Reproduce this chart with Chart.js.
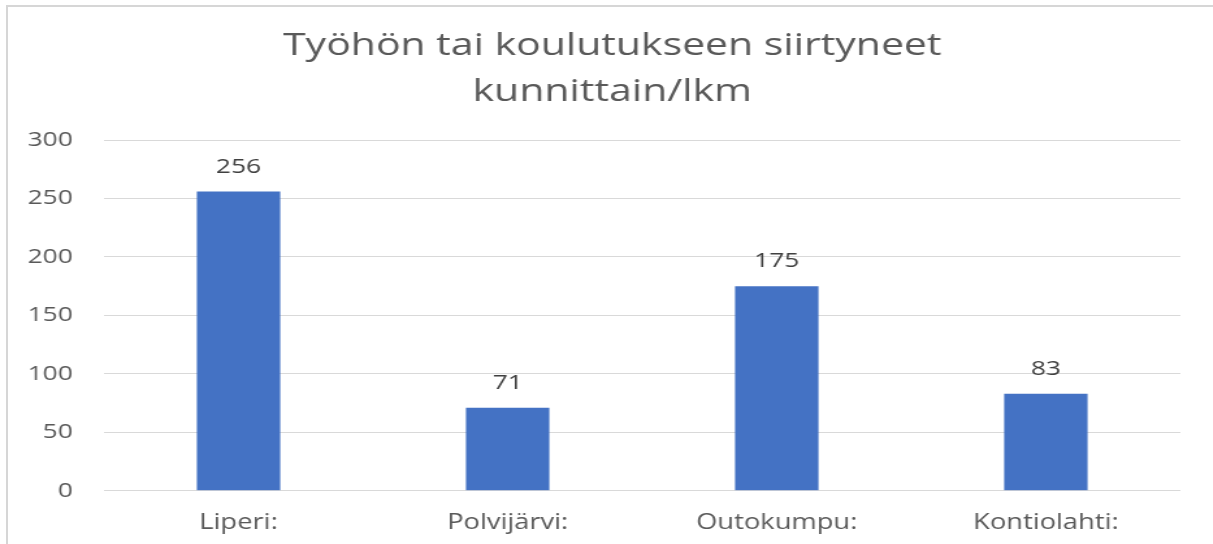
<!DOCTYPE html>
<html>
<head>
<meta charset="utf-8">
<script src="https://cdn.jsdelivr.net/npm/chart.js@4"></script>
<style>
  html, body { margin: 0; padding: 0; background: #ffffff; overflow: hidden; }
  #wrap { width: 1213px; height: 544px; position: relative; overflow: hidden; }
  #c { position: absolute; left: 0; top: 0; transform: scaleX(1.3); transform-origin: 0 0; }
  #frame { position: absolute; left: 6px; top: 5px; right: -10px; bottom: -10px;
           border-left: 2px solid #d6d6d6; border-top: 2px solid #d6d6d6; pointer-events: none; }
</style>
</head>
<body>
<div id="wrap">
  <canvas id="c" width="933" height="544"></canvas>
  <div id="frame"></div>
</div>
<script>
const titleLines = ["Työhön tai koulutukseen siirtyneet", "kunnittain/lkm"];
const categories = ["Liperi:", "Polvijärvi:", "Outokumpu:", "Kontiolahti:"];
const values = [256, 71, 175, 83];
const yTicks = [0, 50, 100, 150, 200, 250, 300];

const FONT = "'Open Sans', 'Noto Sans', sans-serif";
const TEXT = "#595959";

const titleShift = {
  id: 'titleShift',
  afterLayout(chart) {
    const t = chart.titleBlock;
    if (t) { t.left = 34; t.width = t.right - t.left; }
  }
};

const barLabels = {
  id: 'barLabels',
  afterDatasetsDraw(chart) {
    const ctx = chart.ctx;
    const meta = chart.getDatasetMeta(0);
    ctx.save();
    ctx.font = "20.3px " + FONT;
    ctx.fillStyle = "#404040";
    ctx.textAlign = 'center';
    ctx.textBaseline = 'alphabetic';
    meta.data.forEach((bar, i) => {
      ctx.fillText(String(chart.data.datasets[0].data[i]), bar.x, bar.y - 19);
    });
    ctx.restore();
  }
};

new Chart(document.getElementById('c'), {
  type: 'bar',
  data: {
    labels: categories,
    datasets: [{
      data: values,
      backgroundColor: '#4472C4',
      borderWidth: 0,
      barPercentage: 0.31,
      categoryPercentage: 1.0
    }]
  },
  options: {
    responsive: false,
    animation: false,
    events: [],
    layout: { padding: { left: 0, right: 25, top: 0, bottom: -12 } },
    plugins: {
      legend: { display: false },
      tooltip: { enabled: false },
      title: {
        display: true,
        text: titleLines,
        color: TEXT,
        font: { family: FONT, size: 31.5, weight: 'normal', lineHeight: 1.43 },
        padding: { top: 24, bottom: 26 }
      }
    },
    scales: {
      y: {
        min: 0, max: 300,
        afterBuildTicks(scale) { scale.ticks = yTicks.map(v => ({ value: v })); },
        afterFit(scale) { scale.width = 80; },
        border: { display: false },
        grid: { color: '#d9d9d9', lineWidth: 1, drawTicks: false },
        ticks: { color: TEXT, font: { family: FONT, size: 20.3 }, padding: 24 }
      },
      x: {
        border: { display: false },
        grid: { display: false, drawTicks: false },
        ticks: { color: TEXT, font: { family: FONT, size: 21 }, padding: 20, maxRotation: 0, autoSkip: false }
      }
    }
  },
  plugins: [titleShift, barLabels]
});
</script>
</body>
</html>
